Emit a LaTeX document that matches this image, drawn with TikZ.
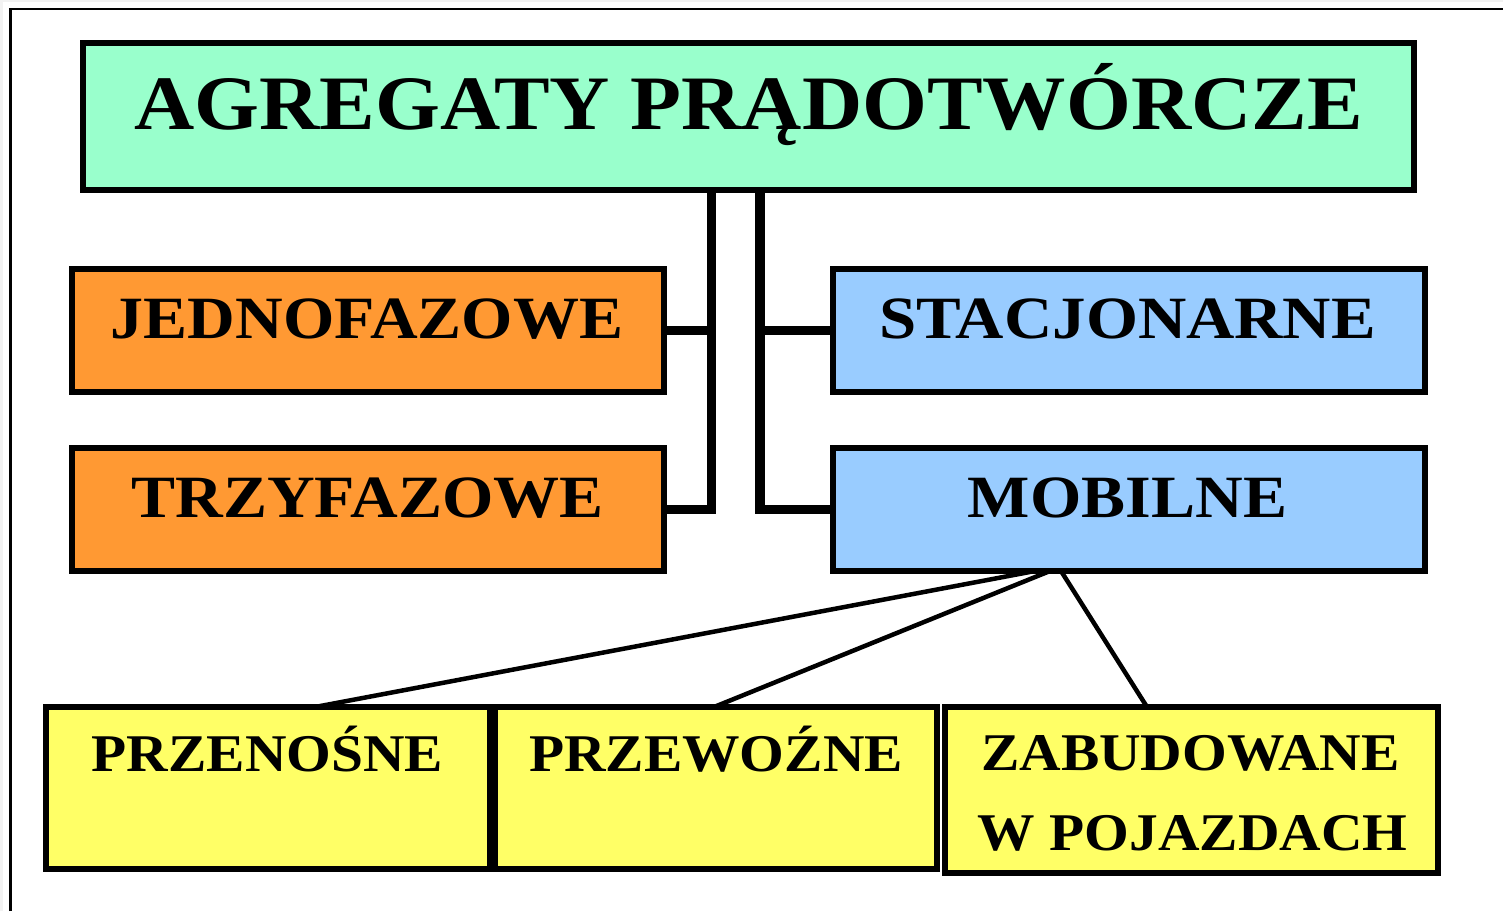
\documentclass[tikz,border=0pt]{standalone}
\usepackage{fontspec}
\setmainfont{Liberation Serif}
\usepackage{graphicx}
\definecolor{mint}{HTML}{99FFCC}
\definecolor{orng}{HTML}{FF9933}
\definecolor{lblue}{HTML}{99CCFF}
\definecolor{lyel}{HTML}{FFFF66}
\definecolor{pagegray}{HTML}{F2F2F2}
\begin{document}
\begin{tikzpicture}[x=1pt,y=-1pt,
  boxn/.style={draw=black, line width=6pt, rectangle, inner sep=0pt},
  conn/.style={draw=black, line width=9.5pt},
  diag/.style={draw=black, line width=4.5pt},
  ttop/.style={anchor=base, inner sep=0pt, font=\fontsize{77}{90}\selectfont\bfseries},
  tmid/.style={anchor=base, inner sep=0pt, font=\fontsize{60}{70}\selectfont\bfseries},
  tbot/.style={anchor=base, inner sep=0pt, font=\fontsize{53}{64}\selectfont\bfseries}]
\useasboundingbox (0,0) rectangle (1503,911);
\fill[pagegray] (0,0) rectangle (1503,911);
\fill[white] (3,2) rectangle (1503,911);
\draw[line width=2.8pt] (10.5,911) -- (10.5,9) -- (1503,9);

% box geometry (nodes; filled and outlined again after the connectors)
\path
  (748.5,116.5) node[boxn, fill=mint, minimum width=1325pt, minimum height=141pt] (top) {}
  (368,330.5) node[boxn, fill=orng, minimum width=586pt, minimum height=117pt] (jedno) {}
  (368,509.25) node[boxn, fill=orng, minimum width=586pt, minimum height=116.5pt] (tryf) {}
  (1129,330.5) node[boxn, fill=lblue, minimum width=586pt, minimum height=117pt] (stacj) {}
  (1129,509.5) node[boxn, fill=lblue, minimum width=586pt, minimum height=117pt] (mob) {}
  (268,788) node[boxn, fill=lyel, minimum width=438pt, minimum height=156pt] (przen) {}
  (716,788) node[boxn, fill=lyel, minimum width=436pt, minimum height=156pt] (przew) {}
  (1191,790) node[boxn, fill=lyel, minimum width=487pt, minimum height=160pt] (zab) {};

\coordinate (lv) at (711.5,0);
\coordinate (rv) at (760,0);

\draw[conn] (lv |- top.south) |- (tryf.east);
\draw[conn] (lv |- jedno.east) -- (jedno.east);
\draw[conn] (rv |- top.south) |- (mob.west);
\draw[conn] (rv |- stacj.west) -- (stacj.west);
\draw[diag] ([xshift=-94pt]mob.south) -- ([xshift=47pt]przen.north);
\draw[diag] ([xshift=-79pt]mob.south) -- ([xshift=-2pt]przew.north);
\draw[diag] ([xshift=-68pt]mob.south) -- ([xshift=-44pt]zab.north);

% redraw boxes above the connectors
\foreach \n/\c in {top/mint,jedno/orng,tryf/orng,stacj/lblue,mob/lblue,przen/lyel,przew/lyel,zab/lyel}{
  \draw[line width=6pt, fill=\c] (\n.north west) rectangle (\n.south east);
}

\node[ttop] (ttop) at (748.5,129) {\scalebox{1.083}[1]{AGREGATY PRĄDOTWÓRCZE}};
\node[tmid] (tjedno) at (367,338) {\scalebox{1.1}[1]{JEDNOFAZOWE}};
\node[tmid] (ttryf) at (367.5,517) {\scalebox{1.1}[1]{TRZYFAZOWE}};
\node[tmid] (tstacj) at (1127.5,338) {\scalebox{1.115}[1]{STACJONARNE}};
\node[tmid] (tmob) at (1127.5,517) {\scalebox{1.1}[1]{MOBILNE}};
\node[tbot] (tprzen) at (267.5,771) {\scalebox{1.085}[1]{PRZENOŚNE}};
\node[tbot] (tprzew) at (716,771) {\scalebox{1.085}[1]{PRZEWOŹNE}};
\node[tbot] (tzab1) at (1190.5,770) {\scalebox{1.085}[1]{ZABUDOWANE}};
\node[tbot] (tzab2) at (1192.5,850) {\scalebox{1.085}[1]{W POJAZDACH}};
\end{tikzpicture}
\end{document}
